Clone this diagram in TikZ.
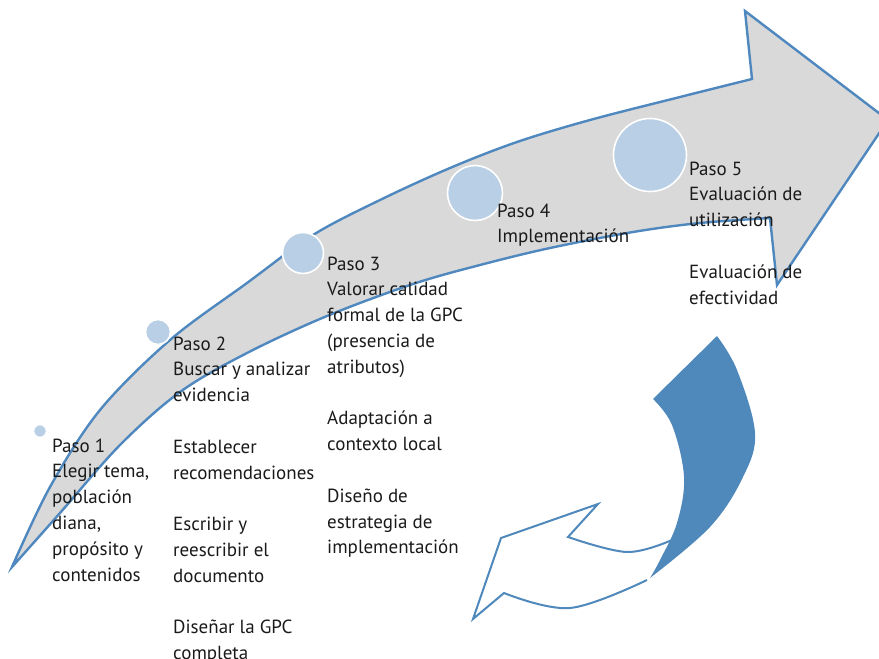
\documentclass[tikz,border=0pt]{standalone}
\usepackage{fontspec}
\setmainfont{PT Sans}
\definecolor{arrowline}{HTML}{4F88BF}
\definecolor{arrowfill}{HTML}{D9D9D9}
\definecolor{dotfill}{HTML}{B8CFE5}
\definecolor{txt}{HTML}{1A1A1A}
\definecolor{swirl}{HTML}{4F88BB}
\newcommand{\stepblock}[1]{\begin{tabular}[t]{@{}l@{}}#1\end{tabular}}
\tikzset{
  bigarrow/.style={draw=arrowline, fill=arrowfill, line width=2.4pt, line join=miter},
  dot/.style={circle, fill=dotfill, draw=white, line width=1.6pt, inner sep=0pt},
  steptext/.style={anchor=base west, inner sep=0pt, text=txt,
    font=\fontsize{19}{25.8}\selectfont},
  swirlfill/.style={fill=swirl, draw=none},
  swirlline/.style={draw=swirl, line width=2pt, line join=miter}
}
\begin{document}
\begin{tikzpicture}[x=1pt, y=-1pt]
\useasboundingbox (0,0) rectangle (879,659);
\clip (0,0) rectangle (879,659);
% big arrow
\path[bigarrow] (12,567)
  -- plot[smooth, tension=0.55] coordinates {(12,567) (50,487) (100,410) (170,340) (247,283) (313,235) (380,200) (450,168) (517,142) (590,120) (680,97) (752,79)}
  -- (745,11) -- (888,120) -- (777,285) -- (770,218)
  -- plot[smooth, tension=0.55] coordinates {(770,218) (700,223) (633,232) (550,248) (480,265) (413,284) (327,316) (247,353) (180,392) (120,445) (60,513) (12,567)}
  -- cycle;
% dots
\node[dot, minimum size=13pt] (c1) at (40,431) {};
\node[dot, minimum size=25pt] (c2) at (158,332) {};
\node[dot, minimum size=41pt] (c3) at (303,253) {};
\node[dot, minimum size=55pt] (c4) at (475,193) {};
\node[dot, minimum size=73pt] (c5) at (650,155) {};
% texts
\node[steptext] (t1) at (52,452) {\stepblock{Paso 1\\Elegir tema,\\población\\diana,\\propósito y\\contenidos}};
\node[steptext] (t2) at (173,350) {\stepblock{Paso 2\\Buscar y analizar\\evidencia\\[25.8pt]Establecer\\recomendaciones\\[25.8pt]Escribir y\\reescribir el\\documento\\[25.8pt]Diseñar la GPC\\completa}};
\node[steptext] (t3) at (327,270) {\stepblock{Paso 3\\Valorar calidad\\formal de la GPC\\(presencia de\\atributos)\\[25.8pt]Adaptación a\\contexto local\\[25.8pt]Diseño de\\estrategia de\\implementación}};
\node[steptext] (t4) at (497,217) {\stepblock{Paso 4\\Implementación}};
\node[steptext] (t5) at (689,175) {\stepblock{Paso 5\\Evaluación de\\utilización\\[25.8pt]Evaluación de\\efectividad}};
% bottom cycle arrow: outline part
\path[swirlline] plot[smooth, tension=0.6] coordinates {(672,540) (627,552) (568,537)}
  -- (598,504) -- (501,538) -- (473,619) -- (504,593)
  -- plot[smooth, tension=0.6] coordinates {(504,593) (570,608) (647,580)};
% filled part
\path[swirlfill] (717,336)
  -- plot[smooth, tension=0.6] coordinates {(717,336) (737,370) (755,433) (743,477) (710,527) (650,578)}
  -- plot[smooth, tension=0.6] coordinates {(650,578) (660,560) (677,523) (684,477) (672,425) (653,399)}
  -- cycle;
\end{tikzpicture}
\end{document}
